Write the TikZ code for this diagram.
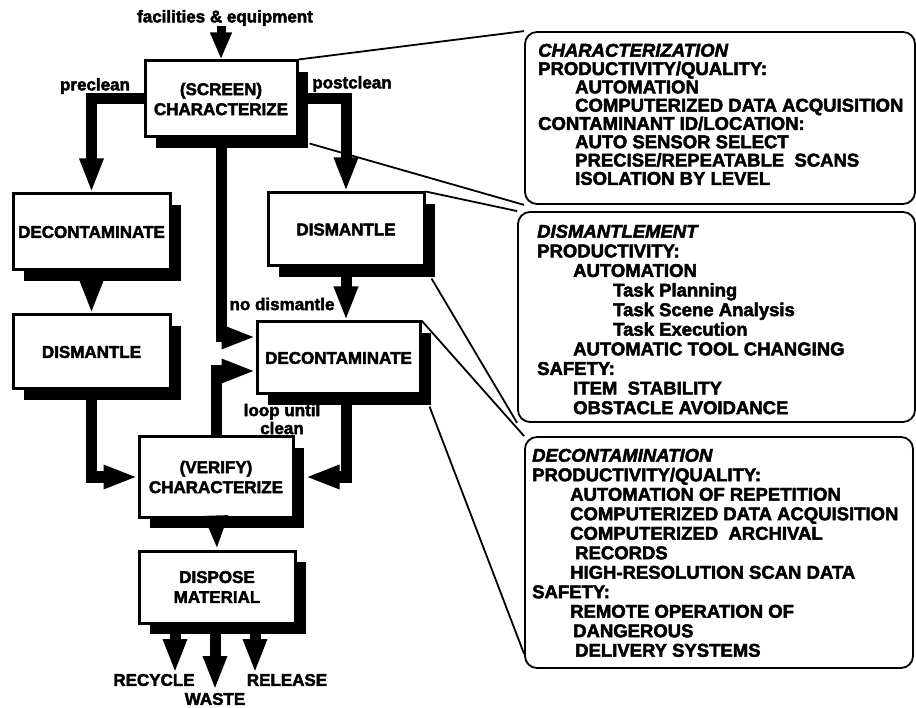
\documentclass[tikz,border=0pt]{standalone}
\usepackage{fontspec}
\setmainfont{Liberation Sans}[FakeBold=2.5]
\usetikzlibrary{arrows.meta,shadows,calc}
\newcommand\dgbox{\fontsize{17}{20}\selectfont\bfseries}
\newcommand\dglab{\fontsize{17}{18}\selectfont\bfseries}
\newcommand\dgpan[1]{\fontsize{18.5}{#1}\selectfont\bfseries}
\begin{document}
\begin{tikzpicture}[x=1pt,y=-1pt,
  box/.style={draw, line width=3pt, fill=white, inner sep=0pt, align=center, font=\dgbox,
    drop shadow={shadow xshift=11pt, shadow yshift=-11pt, fill=black, opacity=1}},
  flow/.style={line width=11pt, -{Triangle[length=34pt,width=22pt]}},
  leader/.style={line width=1.8pt},
  panel/.style={draw, line width=1.8pt, rounded corners=12pt, inner sep=0pt},
  lab/.style={font=\dglab, inner sep=0pt, align=center},
  ptext/.style={anchor=north west, align=left, inner sep=0pt}]
\fill[white] (0,0) rectangle (916,708);
\useasboundingbox (0,0) rectangle (916,708);

% panels
\node[panel, minimum width=390pt, minimum height=172pt] (p1) at (720,118) {};
\node[panel, minimum width=397pt, minimum height=210pt] (p2) at (716.5,317) {};
\node[panel, minimum width=388pt, minimum height=231pt] (p3) at (719,552.5) {};

\node[ptext, font=\dgpan{18.3}] (t1) at (538,43.6) {\textit{CHARACTERIZATION}\\
PRODUCTIVITY/QUALITY:\\
\hspace*{37pt}AUTOMATION\\
\hspace*{37pt}COMPUTERIZED DATA ACQUISITION\\
CONTAMINANT ID/LOCATION:\\
\hspace*{37pt}AUTO SENSOR SELECT\\
\hspace*{37pt}PRECISE/REPEATABLE\ \ SCANS\\
\hspace*{37pt}ISOLATION BY LEVEL};

\node[ptext, font=\dgpan{19.6}] (t2) at (537,224.6) {\textit{DISMANTLEMENT}\\
PRODUCTIVITY:\\
\hspace*{36pt}AUTOMATION\\
\hspace*{76pt}Task Planning\\
\hspace*{76pt}Task Scene Analysis\\
\hspace*{76pt}Task Execution\\
\hspace*{36pt}AUTOMATIC TOOL CHANGING\\
SAFETY:\\
\hspace*{36pt}ITEM\ \ STABILITY\\
\hspace*{36pt}OBSTACLE AVOIDANCE};

\node[ptext, font=\dgpan{19.5}] (t3) at (532,448.6) {\textit{DECONTAMINATION}\\
PRODUCTIVITY/QUALITY:\\
\hspace*{38pt}AUTOMATION OF REPETITION\\
\hspace*{38pt}COMPUTERIZED DATA ACQUISITION\\
\hspace*{38pt}COMPUTERIZED\ \ ARCHIVAL\\
\hspace*{43pt}RECORDS\\
\hspace*{38pt}HIGH-RESOLUTION SCAN DATA\\
SAFETY:\\
\hspace*{38pt}REMOTE OPERATION OF\\
\hspace*{41pt}DANGEROUS\\
\hspace*{43pt}DELIVERY SYSTEMS};

% flow boxes
\node[box, minimum width=152pt, minimum height=76pt] (b1) at (221,99) {(SCREEN)\\CHARACTERIZE};
\node[box, minimum width=157pt, minimum height=76pt] (b2) at (91.5,232) {DECONTAMINATE};
\node[box, minimum width=157pt, minimum height=74pt] (b3) at (91.5,352) {DISMANTLE};
\node[box, minimum width=156pt, minimum height=73pt] (b4) at (346,229.5) {DISMANTLE};
\node[box, minimum width=163pt, minimum height=72pt] (b5) at (338.5,358) {DECONTAMINATE};
\node[box, minimum width=154pt, minimum height=80pt] (b6) at (216,477) {(VERIFY)\\CHARACTERIZE};
\node[box, minimum width=156pt, minimum height=72pt] (b7) at (217,587) {DISPOSE\\MATERIAL};

% leader lines
\draw[leader] (b1.north east) -- (p1.north west);
\draw[leader] ($(b1.south east)+(11,5)$) -- (p1.south west);
\draw[leader] (b4.north east) -- (p2.north west);
\draw[leader] ($(b4.south east)+(6,11)$) -- (p2.south west);
\draw[leader] (b5.north east) -- (p3.north west);
\draw[leader] ($(b5.south east)+(8,11)$) -- ([yshift=15pt]p3.south west);

% labels
\node[lab] (fac) at (225,18) {facilities \& equipment};
\node[lab] (pre) at (95,86) {preclean};
\node[lab] (post) at (352,84) {postclean};
\node[lab] (nod) at (282,304) {no dismantle};
\node[lab] (loop) at (282,419) {loop until\\clean};
\node[lab] (rec) at (154,680) {RECYCLE};
\node[lab] (was) at (215,699) {WASTE};
\node[lab] (rel) at (287,680) {RELEASE};

\coordinate (o1) at (175,673);
\coordinate (o2) at (215,690);
\coordinate (o3) at (255,673);

% flow arrows
\draw[line width=9pt, -{Triangle[length=27pt,width=20pt]}] (fac.south -| b1.north) -- (b1.north);
\draw[flow] (b1.west) -| (b2.north);
\draw[flow] (b1.east) -| (b4.north);
\draw[flow] (b1.south) |- ([yshift=21pt]b5.west);
\draw[flow] (b4.south) -- (b4.south |- b5.north);
\draw[flow] (b2.south) -- (b3.north);
\draw[flow] (b3.south) |- (b6.west);
\draw[flow] ([xshift=8pt]b5.south) |- ($(b6.east)+(11,0)$);
\draw[flow] (b6.north) |- ([yshift=-13pt]b5.west);
\draw[flow] (b6.south) -- (b7.north);
\draw[flow] (b7.south -| o1) -- (o1);
\draw[flow] (b7.south -| o2) -- (o2);
\draw[flow] (b7.south -| o3) -- (o3);
\end{tikzpicture}
\end{document}
